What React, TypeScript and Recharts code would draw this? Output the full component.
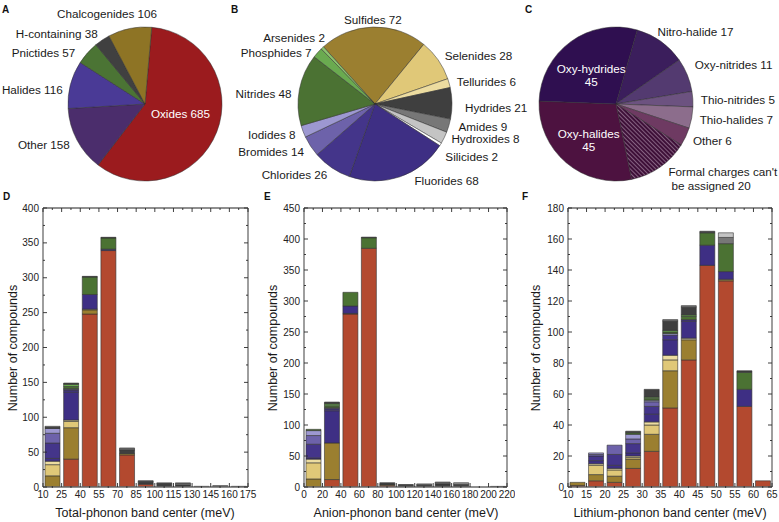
import React from 'react';
import { BarChart, Bar, XAxis, YAxis, PieChart, Pie, Cell } from 'recharts';

const FONT = '"Liberation Sans", Arial, Helvetica, sans-serif';

// ---------- pie A: all anion classes ----------
const pieANames = ['Oxides', 'Other', 'Halides', 'Pnictides', 'H-containing', 'Chalcogenides'];
const pieAValues = [685, 158, 116, 57, 38, 106];

// ---------- pie B: single anions ----------
const pieBNames = [
  'Sulfides', 'Selenides', 'Tellurides', 'Hydrides', 'Amides', 'Hydroxides', 'Silicides',
  'Fluorides', 'Chlorides', 'Bromides', 'Iodides', 'Nitrides', 'Phosphides', 'Arsenides',
];
const pieBValues = [72, 28, 6, 21, 9, 8, 2, 68, 26, 14, 8, 48, 7, 2];

// ---------- pie C: mixed anions ----------
const FORMAL = "Formal charges can't be assigned";
const pieCNames = ['Nitro-halide', 'Oxy-nitrides', 'Thio-nitrides', 'Thio-halides', 'Other', FORMAL, 'Oxy-halides', 'Oxy-hydrides'];
const pieCValues = [17, 11, 5, 7, 6, 20, 45, 45];

// ---------- histograms (stack order bottom -> top) ----------
const seriesKeys = [
  'oxides', 'sulfides', 'selenides', 'tellurides', 'fluorides', 'chlorides', 'bromides',
  'iodides', 'nitrides', 'phosphides', 'arsenides', 'hydrides', 'amides', 'hydroxides',
];

const totalBins = [17.5, 32.5, 47.5, 62.5, 77.5, 92.5, 107.5, 122.5, 137.5, 152.5, 167.5];
const totalTicks = [10, 25, 40, 55, 70, 85, 100, 115, 130, 145, 160, 175];
const totalYTicks = [0, 50, 100, 150, 200, 250, 300, 350, 400];
const totalCounts: Record<string, number[]> = {
  oxides: [0, 40, 248, 339, 46, 4, 0, 0, 0, 0, 0],
  sulfides: [16, 45, 6, 0, 2, 0, 0, 0, 0, 0, 0],
  selenides: [16, 9, 1, 0, 0, 0, 0, 0, 0, 0, 0],
  tellurides: [5, 2, 0, 0, 0, 0, 0, 0, 0, 0, 0],
  fluorides: [4, 40, 21, 2, 0, 0, 0, 0, 0, 0, 0],
  chlorides: [22, 3, 0, 0, 0, 0, 0, 0, 0, 0, 0],
  bromides: [14, 1, 0, 0, 0, 0, 0, 0, 0, 0, 0],
  iodides: [7, 1, 0, 0, 0, 0, 0, 0, 0, 0, 0],
  nitrides: [0, 3, 25, 16, 0, 0, 0, 0, 0, 0, 0],
  phosphides: [0, 3, 0, 0, 0, 0, 0, 0, 0, 0, 0],
  arsenides: [0, 1, 0, 0, 0, 0, 0, 0, 0, 0, 0],
  hydrides: [1, 1, 1, 1, 5, 4, 5, 3, 1, 1, 1],
  amides: [1, 0, 0, 0, 2, 1, 1, 2, 0, 0, 0],
  hydroxides: [1, 0, 0, 0, 1, 0, 0, 1, 0, 1, 0],
};

const anionBins = [10, 30, 50, 70, 90, 110, 130, 150, 170, 190, 210];
const anionTicks = [0, 20, 40, 60, 80, 100, 120, 140, 160, 180, 200, 220];
const anionYTicks = [0, 50, 100, 150, 200, 250, 300, 350, 400, 450];
const anionCounts: Record<string, number[]> = {
  oxides: [0, 12, 279, 385, 3, 0, 0, 0, 0, 0, 0],
  sulfides: [13, 59, 1, 0, 0, 0, 0, 0, 0, 0, 0],
  selenides: [26, 0, 0, 0, 0, 0, 0, 0, 0, 0, 0],
  tellurides: [6, 0, 0, 0, 0, 0, 0, 0, 0, 0, 0],
  fluorides: [2, 52, 12, 0, 0, 0, 0, 0, 0, 0, 0],
  chlorides: [22, 3, 0, 0, 0, 0, 0, 0, 0, 0, 0],
  bromides: [14, 1, 0, 0, 0, 0, 0, 0, 0, 0, 0],
  iodides: [8, 1, 0, 0, 0, 0, 0, 0, 0, 0, 0],
  nitrides: [2, 3, 22, 17, 1, 0, 0, 0, 0, 0, 0],
  phosphides: [0, 3, 0, 0, 0, 0, 0, 0, 0, 0, 0],
  arsenides: [0, 1, 0, 0, 0, 0, 0, 0, 0, 0, 0],
  hydrides: [0, 2, 0, 1, 3, 3, 3, 5, 3, 0, 1],
  amides: [0, 0, 0, 0, 0, 1, 2, 2, 2, 0, 0],
  hydroxides: [0, 0, 0, 0, 0, 0, 0, 1, 2, 0, 0],
};

const lithiumBins = [12.5, 17.5, 22.5, 27.5, 32.5, 37.5, 42.5, 47.5, 52.5, 57.5, 62.5];
const lithiumTicks = [10, 15, 20, 25, 30, 35, 40, 45, 50, 55, 60, 65];
const lithiumYTicks = [0, 20, 40, 60, 80, 100, 120, 140, 160, 180];
const lithiumCounts: Record<string, number[]> = {
  oxides: [1, 4, 3, 12, 23, 51, 82, 143, 133, 52, 4],
  sulfides: [2, 4, 4, 6, 11, 24, 13, 0, 1, 0, 0],
  selenides: [0, 6, 4, 1, 6, 7, 0, 0, 0, 0, 0],
  tellurides: [0, 1, 1, 1, 2, 3, 1, 0, 0, 0, 0],
  fluorides: [0, 2, 2, 2, 5, 10, 11, 13, 5, 11, 0],
  chlorides: [0, 3, 7, 6, 5, 3, 1, 0, 0, 0, 0],
  bromides: [0, 1, 6, 3, 3, 0, 0, 0, 0, 0, 0],
  iodides: [0, 1, 0, 3, 1, 1, 0, 0, 0, 0, 0],
  nitrides: [0, 0, 0, 1, 1, 1, 2, 8, 18, 11, 0],
  phosphides: [0, 0, 0, 0, 1, 1, 1, 0, 0, 0, 0],
  arsenides: [0, 0, 0, 0, 0, 0, 0, 0, 0, 0, 0],
  hydrides: [0, 0, 0, 1, 5, 6, 5, 1, 0, 1, 0],
  amides: [0, 0, 0, 0, 0, 1, 1, 0, 4, 0, 0],
  hydroxides: [0, 0, 0, 0, 0, 0, 0, 0, 3, 0, 0],
};

// ---------- colours ----------
const pieAColors = ['#9b1b1e', '#4b2d6c', '#4a3a96', '#4b7434', '#404040', '#8e7425'];
const pieBColors = [
  '#9b7f30', '#e0c878', '#ecdca0', '#3f3f3f', '#777777', '#c4c4c4', '#ffffff',
  '#3e2f84', '#44358a', '#6d62aa', '#9d98d1', '#4b7233', '#6aaa50', '#8cc46c',
];
const pieCColors = ['#3b1e5c', '#533a70', '#6c5280', '#8c6d8c', '#6e3a62', 'url(#hatch)', '#4d1240', '#2f0f50'];

const seriesColors: Record<string, string> = {
  oxides: '#b3492f', sulfides: '#9b7f30', selenides: '#e0c878', tellurides: '#ecdca0',
  fluorides: '#3e2f84', chlorides: '#44358a', bromides: '#6d62aa', iodides: '#9d98d1',
  nitrides: '#4b7233', phosphides: '#6aaa50', arsenides: '#8cc46c',
  hydrides: '#3f3f3f', amides: '#777777', hydroxides: '#c4c4c4',
};

// label tweaks (pixels) for the pie labels
const nudgeA: Record<string, [number, number]> = {
  Oxides: [-4, -6], Halides: [0, 6], Pnictides: [-6, 4], Chalcogenides: [29, -8],
};
const nudgeB: Record<string, [number, number]> = {
  Hydrides: [5, 4], Amides: [2, -2], Hydroxides: [0, -3], Silicides: [-2, 7], Fluorides: [12, -4],
  Nitrides: [0, 5], Phosphides: [0, 5], Arsenides: [8, -5],
};
const nudgeC: Record<string, [number, number]> = {
  'Nitro-halide': [-8, -4], 'Oxy-nitrides': [0, -8], [FORMAL]: [4, 4], 'Oxy-hydrides': [0, 5], 'Oxy-halides': [0, 3],
};
const insideLabels = ['Oxides', 'Oxy-hydrides', 'Oxy-halides'];

const RAD = Math.PI / 180;

function labelLines(name: string, value: number): string[] {
  if (name === 'Oxy-hydrides' || name === 'Oxy-halides') return [name, String(value)];
  if (name === FORMAL) return ["Formal charges can't", `be assigned ${value}`];
  return [`${name} ${value}`];
}

function makePieLabel(nudge: Record<string, [number, number]>) {
  return (p: any) => {
    const name = p.name ?? p.payload?.name;
    const value = p.value ?? p.payload?.value;
    const inside = insideLabels.includes(name);
    const r = inside ? p.outerRadius * 0.55 : p.outerRadius + 8;
    const c = Math.cos(-p.midAngle * RAD);
    const s = Math.sin(-p.midAngle * RAD);
    const [dx, dy] = nudge[name] || [0, 0];
    const x = p.cx + r * c + dx;
    const y = p.cy + r * s + dy;
    const anchor = inside ? 'middle' : c > 0.15 ? 'start' : c < -0.15 ? 'end' : 'middle';
    const lines = labelLines(name, value);
    const lh = 13.5;
    const y0 = y - ((lines.length - 1) * lh) / 2;
    return (
      <text
        x={x}
        y={y0}
        textAnchor={anchor}
        dominantBaseline="central"
        fontSize={11.7}
        fontFamily={FONT}
        fill={inside ? '#ffffff' : '#1a1a1a'}
      >
        {lines.map((ln, i) => (
          <tspan key={i} x={name === FORMAL && i === 1 ? x + 3 : x} y={y0 + i * lh}>
            {ln}
          </tspan>
        ))}
      </text>
    );
  };
}

function PiePanel(props: {
  names: string[]; values: number[]; colors: string[]; nudge: Record<string, [number, number]>;
  left: number; width: number; cx: number; startAngle: number;
}) {
  const data = props.names.map((n, i) => ({ name: n, value: props.values[i] }));
  return (
    <div style={{ position: 'absolute', left: props.left, top: 0 }}>
      <PieChart width={props.width} height={200} margin={{ top: 0, right: 0, bottom: 0, left: 0 }}>
        <Pie
          data={data}
          dataKey="value"
          nameKey="name"
          cx={props.cx}
          cy={104}
          outerRadius={77}
          startAngle={props.startAngle}
          endAngle={props.startAngle - 360}
          stroke="#2e2e2e"
          strokeWidth={0.5}
          label={makePieLabel(props.nudge)}
          labelLine={false}
          isAnimationActive={false}
        >
          {data.map((d, i) => (
            <Cell key={d.name} fill={props.colors[i]} />
          ))}
        </Pie>
      </PieChart>
    </div>
  );
}

// ---------- histogram helpers ----------
type Side = 'bottom' | 'top' | 'left' | 'right';

function mids(arr: number[]): number[] {
  const out: number[] = [];
  for (let i = 0; i < arr.length - 1; i++) out.push((arr[i] + arr[i + 1]) / 2);
  return out;
}

function makeTick(side: Side, majors: number[], showLabel: boolean) {
  return (p: any) => {
    const v = Number(p.payload?.value);
    const major = majors.some((m) => Math.abs(m - v) < 1e-6);
    const len = major ? 4 : 2;
    const x = p.x;
    const y = p.y;
    let x2 = x;
    let y2 = y;
    if (side === 'bottom') y2 = y - len;
    if (side === 'top') y2 = y + len;
    if (side === 'left') x2 = x + len;
    if (side === 'right') x2 = x - len;
    return (
      <g>
        <line x1={x} y1={y} x2={x2} y2={y2} stroke="#2a2a2a" strokeWidth={0.9} />
        {showLabel && major && side === 'bottom' && (
          <text x={x} y={y + 11} textAnchor="middle" fontSize={10} fontFamily={FONT} fill="#222">
            {v}
          </text>
        )}
        {showLabel && major && side === 'left' && (
          <text x={x - 4} y={y + 3.5} textAnchor="end" fontSize={10} fontFamily={FONT} fill="#222">
            {v}
          </text>
        )}
      </g>
    );
  };
}

const AXIS = { stroke: '#6a6a6a', strokeWidth: 1.3 };

function Histogram(props: {
  bins: number[]; counts: Record<string, number[]>; xTicks: number[]; yTicks: number[];
  left: number; width: number; margin: { top: number; right: number; bottom: number; left: number };
}) {
  const { bins, counts, xTicks, yTicks } = props;
  const rows = bins.map((b, i) => {
    const r: Record<string, number> = { bin: b };
    seriesKeys.forEach((k) => (r[k] = counts[k]?.[i] ?? 0));
    return r;
  });
  const xMinor = mids(xTicks);
  const yMinor = mids(yTicks);
  const xAll = [...xTicks, ...xMinor].sort((a, b) => a - b);
  const yAll = [...yTicks, ...yMinor].sort((a, b) => a - b);
  const xDom: [number, number] = [xTicks[0], xTicks[xTicks.length - 1]];
  const yDom: [number, number] = [0, yTicks[yTicks.length - 1]];
  return (
    <div style={{ position: 'absolute', left: props.left, top: 200 }}>
      <BarChart width={props.width} height={322} data={rows} margin={props.margin} barSize={15}>
        <XAxis xAxisId="x" dataKey="bin" type="number" domain={xDom} ticks={xTicks} interval={0}
          height={1} tickSize={0} tickMargin={0} axisLine={AXIS} tickLine={false}
          tick={makeTick('bottom', xTicks, true)} allowDataOverflow />
        <XAxis xAxisId="xm" dataKey="bin" type="number" domain={xDom} ticks={xMinor} interval={0}
          height={1} tickSize={0} tickMargin={0} axisLine={false} tickLine={false}
          tick={makeTick('bottom', xTicks, false)} allowDataOverflow />
        <XAxis xAxisId="xt" orientation="top" dataKey="bin" type="number" domain={xDom} ticks={xAll} interval={0}
          height={1} tickSize={0} tickMargin={0} axisLine={AXIS} tickLine={false}
          tick={makeTick('top', xTicks, false)} allowDataOverflow />
        <YAxis yAxisId="y" type="number" domain={yDom} ticks={yAll} interval={0}
          width={1} tickSize={0} tickMargin={0} axisLine={AXIS} tickLine={false}
          tick={makeTick('left', yTicks, true)} allowDataOverflow />
        <YAxis yAxisId="yr" orientation="right" type="number" domain={yDom} ticks={yAll} interval={0}
          width={1} tickSize={0} tickMargin={0} axisLine={AXIS} tickLine={false}
          tick={makeTick('right', yTicks, false)} allowDataOverflow />
        {seriesKeys.map((k) => (
          <Bar key={k} dataKey={k} stackId="s" xAxisId="x" yAxisId="y" fill={seriesColors[k]}
            stroke="#333" strokeWidth={0.6} isAnimationActive={false} />
        ))}
      </BarChart>
    </div>
  );
}

export default function App() {
  const letter = { fontSize: 10, fontWeight: 700, fontFamily: FONT, fill: '#111' } as const;
  const title = { fontSize: 12.5, fontFamily: FONT, fill: '#1a1a1a' } as const;
  return (
    <div style={{ position: 'absolute', left: 0, top: 0, width: 779, height: 522, background: '#fff', fontFamily: FONT }}>
      <svg width={0} height={0} style={{ position: 'absolute' }}>
        <defs>
          <pattern id="hatch" patternUnits="userSpaceOnUse" width={3} height={3} patternTransform="rotate(-45)">
            <rect width={3} height={3} fill="#3e1038" />
            <line x1={0.5} y1={0} x2={0.5} y2={3} stroke="#8c6a88" strokeWidth={0.9} />
          </pattern>
        </defs>
      </svg>

      <PiePanel names={pieANames} values={pieAValues} colors={pieAColors} nudge={nudgeA}
        left={0} width={240} cx={145} startAngle={85} />
      <PiePanel names={pieBNames} values={pieBValues} colors={pieBColors} nudge={nudgeB}
        left={235} width={305} cx={140} startAngle={132} />
      <PiePanel names={pieCNames} values={pieCValues} colors={pieCColors} nudge={nudgeC}
        left={520} width={259} cx={96} startAngle={74} />

      <Histogram bins={totalBins} counts={totalCounts} xTicks={totalTicks} yTicks={totalYTicks}
        left={0} width={260} margin={{ top: 7, right: 11, bottom: 33, left: 42 }} />
      <Histogram bins={anionBins} counts={anionCounts} xTicks={anionTicks} yTicks={anionYTicks}
        left={260} width={255} margin={{ top: 7, right: 7, bottom: 33, left: 43 }} />
      <Histogram bins={lithiumBins} counts={lithiumCounts} xTicks={lithiumTicks} yTicks={lithiumYTicks}
        left={520} width={259} margin={{ top: 7, right: 6, bottom: 33, left: 47 }} />

      <svg width={779} height={522} style={{ position: 'absolute', left: 0, top: 0, pointerEvents: 'none' }}>
        <text x={2} y={13} {...letter}>A</text>
        <text x={231} y={13} {...letter}>B</text>
        <text x={525} y={13} {...letter}>C</text>
        <text x={3} y={200} {...letter}>D</text>
        <text x={264} y={200} {...letter}>E</text>
        <text x={522} y={200} {...letter}>F</text>

        <text x={145} y={513} textAnchor="middle" dominantBaseline="central" {...title}>Total-phonon band center (meV)</text>
        <text x={406} y={513} textAnchor="middle" dominantBaseline="central" {...title}>Anion-phonon band center (meV)</text>
        <text x={670} y={513} textAnchor="middle" dominantBaseline="central" {...title}>Lithium-phonon band center (meV)</text>

        <text transform="translate(13,348) rotate(-90)" textAnchor="middle" dominantBaseline="central" {...title}>Number of compounds</text>
        <text transform="translate(273,348) rotate(-90)" textAnchor="middle" dominantBaseline="central" {...title}>Number of compounds</text>
        <text transform="translate(536,348) rotate(-90)" textAnchor="middle" dominantBaseline="central" {...title}>Number of compounds</text>
      </svg>
    </div>
  );
}
